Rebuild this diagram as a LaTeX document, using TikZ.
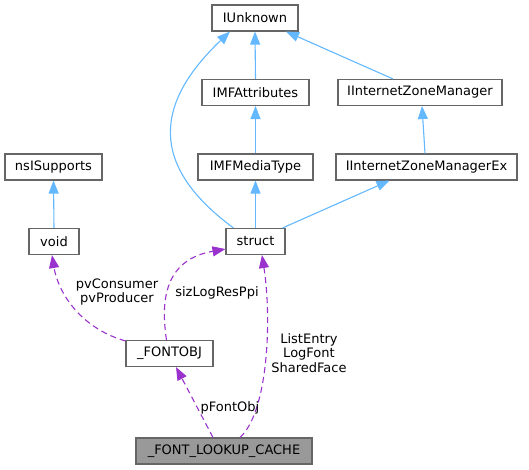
\documentclass[tikz,border=0pt]{standalone}
\usepackage{fontspec}
\setmainfont{DejaVu Sans}
\usetikzlibrary{arrows.meta}
\definecolor{inhblue}{HTML}{63B8FF}
\definecolor{usepurple}{HTML}{9A32CD}
\definecolor{boxgray}{HTML}{666666}
\definecolor{cachefill}{HTML}{999999}
\begin{document}
\begin{tikzpicture}[x=1pt,y=-1pt,
  cls/.style={draw=boxgray,line width=1.1pt,fill=white,inner sep=0pt,minimum height=26pt,font=\fontsize{13}{15}\selectfont},
  hl/.style={cls,fill=cachefill},
  inh/.style={draw=inhblue,line width=1.1pt,-{Triangle[length=13pt,width=10pt]}},
  use/.style={draw=usepurple,line width=1.1pt,dash pattern=on 6pt off 4pt,-{Triangle[length=13pt,width=10pt]}},
  lbl/.style={font=\fontsize{13}{14.6}\selectfont,align=center,inner sep=0pt}]
\useasboundingbox (0,0) rectangle (529,469);
\node[cls,minimum width=86pt] (iunk) at (255,18) {IUnknown};
\node[cls,minimum width=107pt] (imfa) at (255.5,92.5) {IMFAttributes};
\node[cls,minimum width=164pt] (iizm) at (420,92.5) {IInternetZoneManager};
\node[cls,minimum width=97pt] (nsi) at (53.5,167) {nsISupports};
\node[cls,minimum width=115pt] (imfmt) at (255.5,167) {IMFMediaType};
\node[cls,minimum width=181pt] (iizmex) at (426.5,167) {IInternetZoneManagerEx};
\node[cls,minimum width=50pt] (void) at (54,241.5) {void};
\node[cls,minimum width=59pt] (struct) at (255.5,241.5) {struct};
\node[cls,minimum width=87pt] (fontobj) at (169.5,353.5) {\_FONTOBJ};
\node[hl,minimum width=176pt] (flc) at (224,451) {\_FONT\_LOOKUP\_CACHE};

\draw[inh] (imfa.north) -- (iunk.south);
\draw[inh] (imfmt.north) -- (imfa.south);
\draw[inh] (struct.north) -- (imfmt.south);
\draw[inh] ([xshift=-27pt]iizm.north) -- ([xshift=31pt]iunk.south);
\draw[inh] ([xshift=-1.5pt]iizmex.north) -- ([xshift=2pt]iizm.south);
\draw[inh] ([xshift=-3pt]struct.north east) -- ([xshift=-37pt]iizmex.south);
\draw[inh] ([xshift=-22pt]struct.north) .. controls (148,165) and (155,103) .. ([xshift=-25pt]iunk.south);
\draw[inh] (void.north) -- (nsi.south);

\draw[use] ([yshift=-1pt]fontobj.north west) .. controls (80,328) and (58,292) .. ([xshift=-2pt]void.south);
\draw[use] ([xshift=-3pt]fontobj.north) .. controls (158,285) and (175,258) .. ([yshift=6pt]struct.south west);
\draw[use] ([xshift=-11pt]flc.north) -- ([xshift=6.5pt]fontobj.south);
\draw[use] ([xshift=16pt]flc.north) .. controls (268,412) and (272,320) .. ([xshift=6.5pt]struct.south);

\node[lbl] (l1) at (117,292) {pvConsumer\\pvProducer};
\node[lbl] (l2) at (217,293) {sizLogResPpi};
\node[lbl] (l3) at (230,408) {pFontObj};
\node[lbl] (l4) at (309,353) {ListEntry\\LogFont\\SharedFace};
\end{tikzpicture}
\end{document}
